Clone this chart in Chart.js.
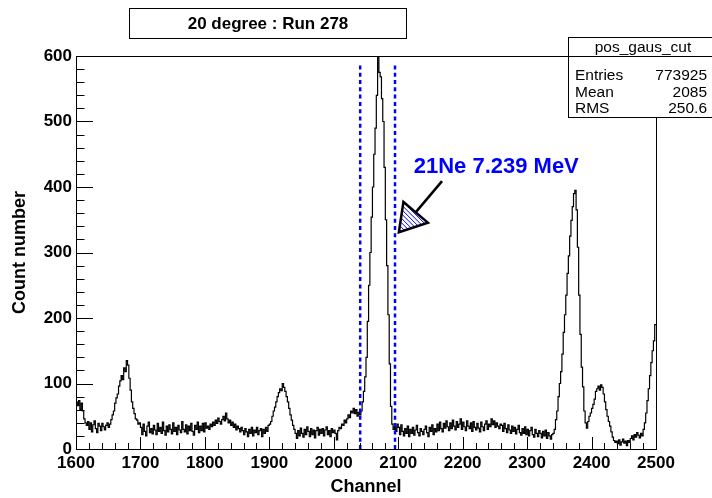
<!DOCTYPE html>
<html>
<head>
<meta charset="utf-8">
<script src="https://cdn.jsdelivr.net/npm/chart.js@4/dist/chart.umd.min.js"></script>
<style>
  html, body { margin: 0; padding: 0; background: #fff; }
  canvas { display: block; }
</style>
</head>
<body>
<canvas id="c" width="712" height="498"></canvas>
<script>
// ---- texts ----
const titleText = '20 degree : Run 278';
const xTitle = 'Channel';
const yTitle = 'Count number';

// ---- histogram: counts per 2-channel bin, starting at channel 1600 ----
const binStart = 1600;
const binWidth = 2;
const counts = [
  /* 1600 */ 72, 66, 74, 60, 70, 58, 46, 40, 36, 42,
  /* 1620 */ 30, 40, 26, 37, 43, 31, 25, 39, 35, 28,
  /* 1640 */ 39, 34, 29, 36, 40, 33, 38, 45, 52, 58,
  /* 1660 */ 70, 78, 84, 96, 104, 112, 106, 124, 118, 135,
  /* 1680 */ 128, 108, 90, 72, 62, 54, 46, 44, 38, 40,
  /* 1700 */ 33, 22, 38, 27, 20, 35, 41, 25, 31, 23,
  /* 1720 */ 36, 29, 22, 39, 27, 33, 24, 41, 28, 21,
  /* 1740 */ 35, 26, 37, 30, 23, 40, 27, 33, 22, 36,
  /* 1760 */ 29, 25, 42, 30, 26, 37, 23, 35, 28, 39,
  /* 1780 */ 27, 21, 36, 30, 41, 25, 35, 28, 39, 26,
  /* 1800 */ 40, 32, 35, 30, 38, 34, 41, 36, 44, 39,
  /* 1820 */ 47, 42, 38, 45, 50, 43, 55, 46, 40, 44,
  /* 1840 */ 36, 41, 33, 38, 29, 35, 31, 26, 33, 28,
  /* 1860 */ 22, 31, 26, 19, 30, 24, 33, 20, 29, 25,
  /* 1880 */ 33, 22, 28, 31, 19, 30, 24, 33, 27, 36,
  /* 1900 */ 38, 42, 50, 58, 64, 72, 80, 86, 92, 89,
  /* 1920 */ 100, 94, 88, 80, 72, 62, 52, 44, 36, 30,
  /* 1940 */ 24, 16, 28, 20, 32, 24, 18, 30, 22, 34,
  /* 1960 */ 27, 19, 31, 22, 29, 17, 28, 33, 21, 30,
  /* 1980 */ 24, 31, 20, 29, 34, 22, 28, 19, 31, 25,
  /* 2000 */ 29, 24, 14, 28, 33, 31, 38, 36, 44, 40,
  /* 2020 */ 46, 52, 48, 58, 55, 62, 54, 60, 50, 56,
  /* 2040 */ 52, 58, 72, 88, 110, 140, 195, 250, 300, 354,
  /* 2060 */ 400, 450, 490, 540, 600, 575, 568, 535, 500, 430,
  /* 2080 */ 350, 280, 205, 130, 65, 38, 30, 34, 27, 38,
  /* 2100 */ 33, 22, 37, 27, 20, 31, 24, 35, 19, 30,
  /* 2120 */ 24, 33, 21, 29, 36, 25, 20, 31, 27, 22,
  /* 2140 */ 30, 35, 25, 19, 33, 27, 37, 22, 31, 26,
  /* 2160 */ 38, 28, 41, 31, 26, 39, 32, 43, 34, 28,
  /* 2180 */ 40, 31, 44, 35, 29, 42, 33, 38, 46, 30,
  /* 2200 */ 41, 34, 28, 43, 35, 31, 40, 27, 42, 33,
  /* 2220 */ 29, 39, 32, 26, 41, 34, 28, 38, 43, 30,
  /* 2240 */ 38, 34, 46, 37, 43, 33, 40, 35, 31, 38,
  /* 2260 */ 36, 27, 39, 31, 25, 37, 29, 24, 35, 27,
  /* 2280 */ 33, 23, 30, 36, 25, 21, 31, 24, 34, 22,
  /* 2300 */ 30, 20, 28, 33, 22, 18, 30, 24, 19, 28,
  /* 2320 */ 24, 17, 27, 20, 29, 16, 25, 20, 15, 22,
  /* 2340 */ 24, 30, 45, 58, 80, 100, 118, 145, 178, 205,
  /* 2360 */ 235, 268, 295, 325, 349, 370, 390, 395, 365, 308,
  /* 2380 */ 235, 175, 125, 95, 58, 40, 32, 42, 50, 55,
  /* 2400 */ 62, 68, 76, 88, 92, 96, 90, 98, 94, 84,
  /* 2420 */ 72, 60, 50, 42, 35, 26, 18, 13, 10, 12,
  /* 2440 */ 8, 14, 6, 11, 15, 9, 12, 5, 13, 10,
  /* 2460 */ 16, 20, 14, 22, 18, 25, 21, 17, 24, 20,
  /* 2480 */ 30, 40, 55, 74, 92, 112, 132, 150, 165, 190
];

// ---- axes ----
const xTicks = [1600, 1700, 1800, 1900, 2000, 2100, 2200, 2300, 2400, 2500];
const yTicks = [0, 100, 200, 300, 400, 500, 600];
const xMinorStep = 20;
const yMinorStep = 20;

// ---- cut window and annotation ----
const cutLines = [2041, 2095];
const cutTop = 590;
const peakLabel = '21Ne 7.239 MeV';
const labelAt = [2124, 430];   // channel, counts
const arrowFrom = [2168, 409];
const arrowTo = [2101, 331];

// ---- statistics box ----
const statsName = 'pos_gaus_cut';
const statsRows = ['Entries', 'Mean', 'RMS'];
const statsValues = ['773925', '2085', '250.6'];

const FONT = "'Liberation Sans', Arial, Helvetica, sans-serif";

// step outline: one point per bin lower edge, closing at the upper edge of the last bin
const histPoints = counts.map((c, i) => ({ x: binStart + i * binWidth, y: c }));
histPoints.push({ x: binStart + counts.length * binWidth, y: counts[counts.length - 1] });

const cutDatasets = cutLines.map(ch => ({
  data: [{ x: ch, y: 0 }, { x: ch, y: cutTop }],
  borderColor: '#0000ff',
  borderWidth: 2.5,
  borderDash: [4, 3.3],
  pointRadius: 0,
  fill: false
}));

const rootStyle = {
  id: 'rootStyle',
  afterDatasetsDraw(chart) {
    const { ctx, chartArea: a, scales: { x, y } } = chart;
    ctx.save();
    ctx.strokeStyle = '#000';
    ctx.lineWidth = 1;
    // inward ticks on the bottom axis
    ctx.beginPath();
    for (let v = x.min; v <= x.max; v += xMinorStep) {
      const px = Math.round(x.getPixelForValue(v)) + 0.5;
      const len = v % 100 === 0 ? 12 : 6;
      ctx.moveTo(px, a.bottom);
      ctx.lineTo(px, a.bottom - len);
    }
    // inward ticks on the left axis
    for (let v = y.min; v <= y.max; v += yMinorStep) {
      const py = Math.round(y.getPixelForValue(v)) + 0.5;
      const len = v % 100 === 0 ? 17 : 8.5;
      ctx.moveTo(a.left, py);
      ctx.lineTo(a.left + len, py);
    }
    ctx.stroke();
    // frame
    ctx.strokeRect(Math.round(a.left) + 0.5, Math.round(a.top) + 0.5,
      Math.round(a.right - a.left), Math.round(a.bottom - a.top));
    ctx.restore();
  },
  afterDraw(chart) {
    const { ctx, scales: { x, y } } = chart;
    ctx.save();

    // arrow pointing at the peak
    const tip = { x: x.getPixelForValue(arrowTo[0]), y: y.getPixelForValue(arrowTo[1]) };
    const tail = { x: x.getPixelForValue(arrowFrom[0]), y: y.getPixelForValue(arrowFrom[1]) };
    const dx = tail.x - tip.x, dy = tail.y - tip.y;
    const L = Math.hypot(dx, dy);
    const ux = dx / L, uy = dy / L;
    const headLen = 26, headHalf = 16;
    const base = { x: tip.x + ux * headLen, y: tip.y + uy * headLen };
    const c1 = { x: base.x - uy * headHalf, y: base.y + ux * headHalf };
    const c2 = { x: base.x + uy * headHalf, y: base.y - ux * headHalf };

    ctx.strokeStyle = '#000';
    ctx.lineWidth = 2.5;
    ctx.lineCap = 'butt';
    ctx.beginPath();
    ctx.moveTo(tail.x, tail.y);
    ctx.lineTo(base.x, base.y);
    ctx.stroke();

    const tri = new Path2D();
    tri.moveTo(tip.x, tip.y);
    tri.lineTo(c1.x, c1.y);
    tri.lineTo(c2.x, c2.y);
    tri.closePath();
    ctx.fillStyle = '#fff';
    ctx.fill(tri);
    ctx.save();
    ctx.clip(tri);
    ctx.strokeStyle = '#0000ff';
    ctx.lineWidth = 1;
    ctx.beginPath();
    for (let k = -60; k <= 60; k += 4.5) {
      ctx.moveTo(tip.x + k - 40, tip.y - 40);
      ctx.lineTo(tip.x + k + 40, tip.y + 40);
    }
    ctx.stroke();
    ctx.restore();
    ctx.lineJoin = 'miter';
    ctx.lineWidth = 2.5;
    ctx.strokeStyle = '#000';
    ctx.stroke(tri);

    // peak label
    ctx.fillStyle = '#0000ff';
    ctx.font = `bold 22px ${FONT}`;
    ctx.textAlign = 'left';
    ctx.textBaseline = 'middle';
    ctx.fillText(peakLabel, x.getPixelForValue(labelAt[0]), y.getPixelForValue(labelAt[1]));

    // title box
    ctx.lineWidth = 1;
    ctx.strokeStyle = '#000';
    ctx.fillStyle = '#fff';
    ctx.fillRect(129.5, 8.5, 277, 30);
    ctx.strokeRect(129.5, 8.5, 277, 30);
    ctx.fillStyle = '#000';
    ctx.font = `bold 17px ${FONT}`;
    ctx.textAlign = 'center';
    ctx.fillText(titleText, 268, 24);

    // statistics box
    const bx = 568.5, by = 37.5, bw = 150, bh = 80;
    ctx.fillStyle = '#fff';
    ctx.fillRect(bx, by, bw, bh);
    ctx.strokeRect(bx, by, bw, bh);
    ctx.beginPath();
    ctx.moveTo(bx, 56.5);
    ctx.lineTo(bx + bw, 56.5);
    ctx.stroke();
    ctx.fillStyle = '#000';
    ctx.font = `15.5px ${FONT}`;
    ctx.textAlign = 'center';
    ctx.fillText(statsName, 643, 47.5);
    const rowY = [76, 92.5, 109];
    statsRows.forEach((r, i) => {
      ctx.textAlign = 'left';
      ctx.fillText(r, 575, rowY[i]);
      ctx.textAlign = 'right';
      ctx.fillText(statsValues[i], 707, rowY[i]);
    });
    ctx.restore();
  }
};

const tickFont = { family: FONT, weight: 'bold', size: 17 };

new Chart(document.getElementById('c'), {
  type: 'line',
  data: {
    datasets: [
      ...cutDatasets,
      {
        data: histPoints,
        stepped: 'before',
        borderColor: '#000',
        borderWidth: 1.2,
        pointRadius: 0,
        fill: false
      }
    ]
  },
  options: {
    responsive: false,
    animation: false,
    devicePixelRatio: 1,
    layout: { padding: { left: 0, top: 56, right: 56, bottom: 0 } },
    plugins: { legend: { display: false }, tooltip: { enabled: false } },
    scales: {
      x: {
        type: 'linear',
        min: xTicks[0],
        max: xTicks[xTicks.length - 1],
        afterBuildTicks: s => { s.ticks = xTicks.map(v => ({ value: v })); },
        afterFit: s => { s.height = 49; },
        grid: { display: false, drawTicks: false },
        border: { display: false },
        ticks: {
          autoSkip: false, maxRotation: 0, minRotation: 0, padding: 4,
          color: '#000', font: tickFont, callback: v => String(v)
        },
        title: {
          display: true, text: xTitle, color: '#000',
          font: { family: FONT, weight: 'bold', size: 18, lineHeight: 1 },
          padding: { top: 0, bottom: 2 }
        }
      },
      y: {
        type: 'linear',
        min: yTicks[0],
        max: yTicks[yTicks.length - 1],
        afterBuildTicks: s => { s.ticks = yTicks.map(v => ({ value: v })); },
        afterFit: s => { s.width = 76; },
        grid: { display: false, drawTicks: false },
        border: { display: false },
        ticks: { padding: 4, color: '#000', font: tickFont, callback: v => String(v) },
        title: {
          display: true, text: yTitle, color: '#000',
          font: { family: FONT, weight: 'bold', size: 18, lineHeight: 1 },
          padding: { top: 11, bottom: 0 }
        }
      }
    }
  },
  plugins: [rootStyle]
});
</script>
</body>
</html>
